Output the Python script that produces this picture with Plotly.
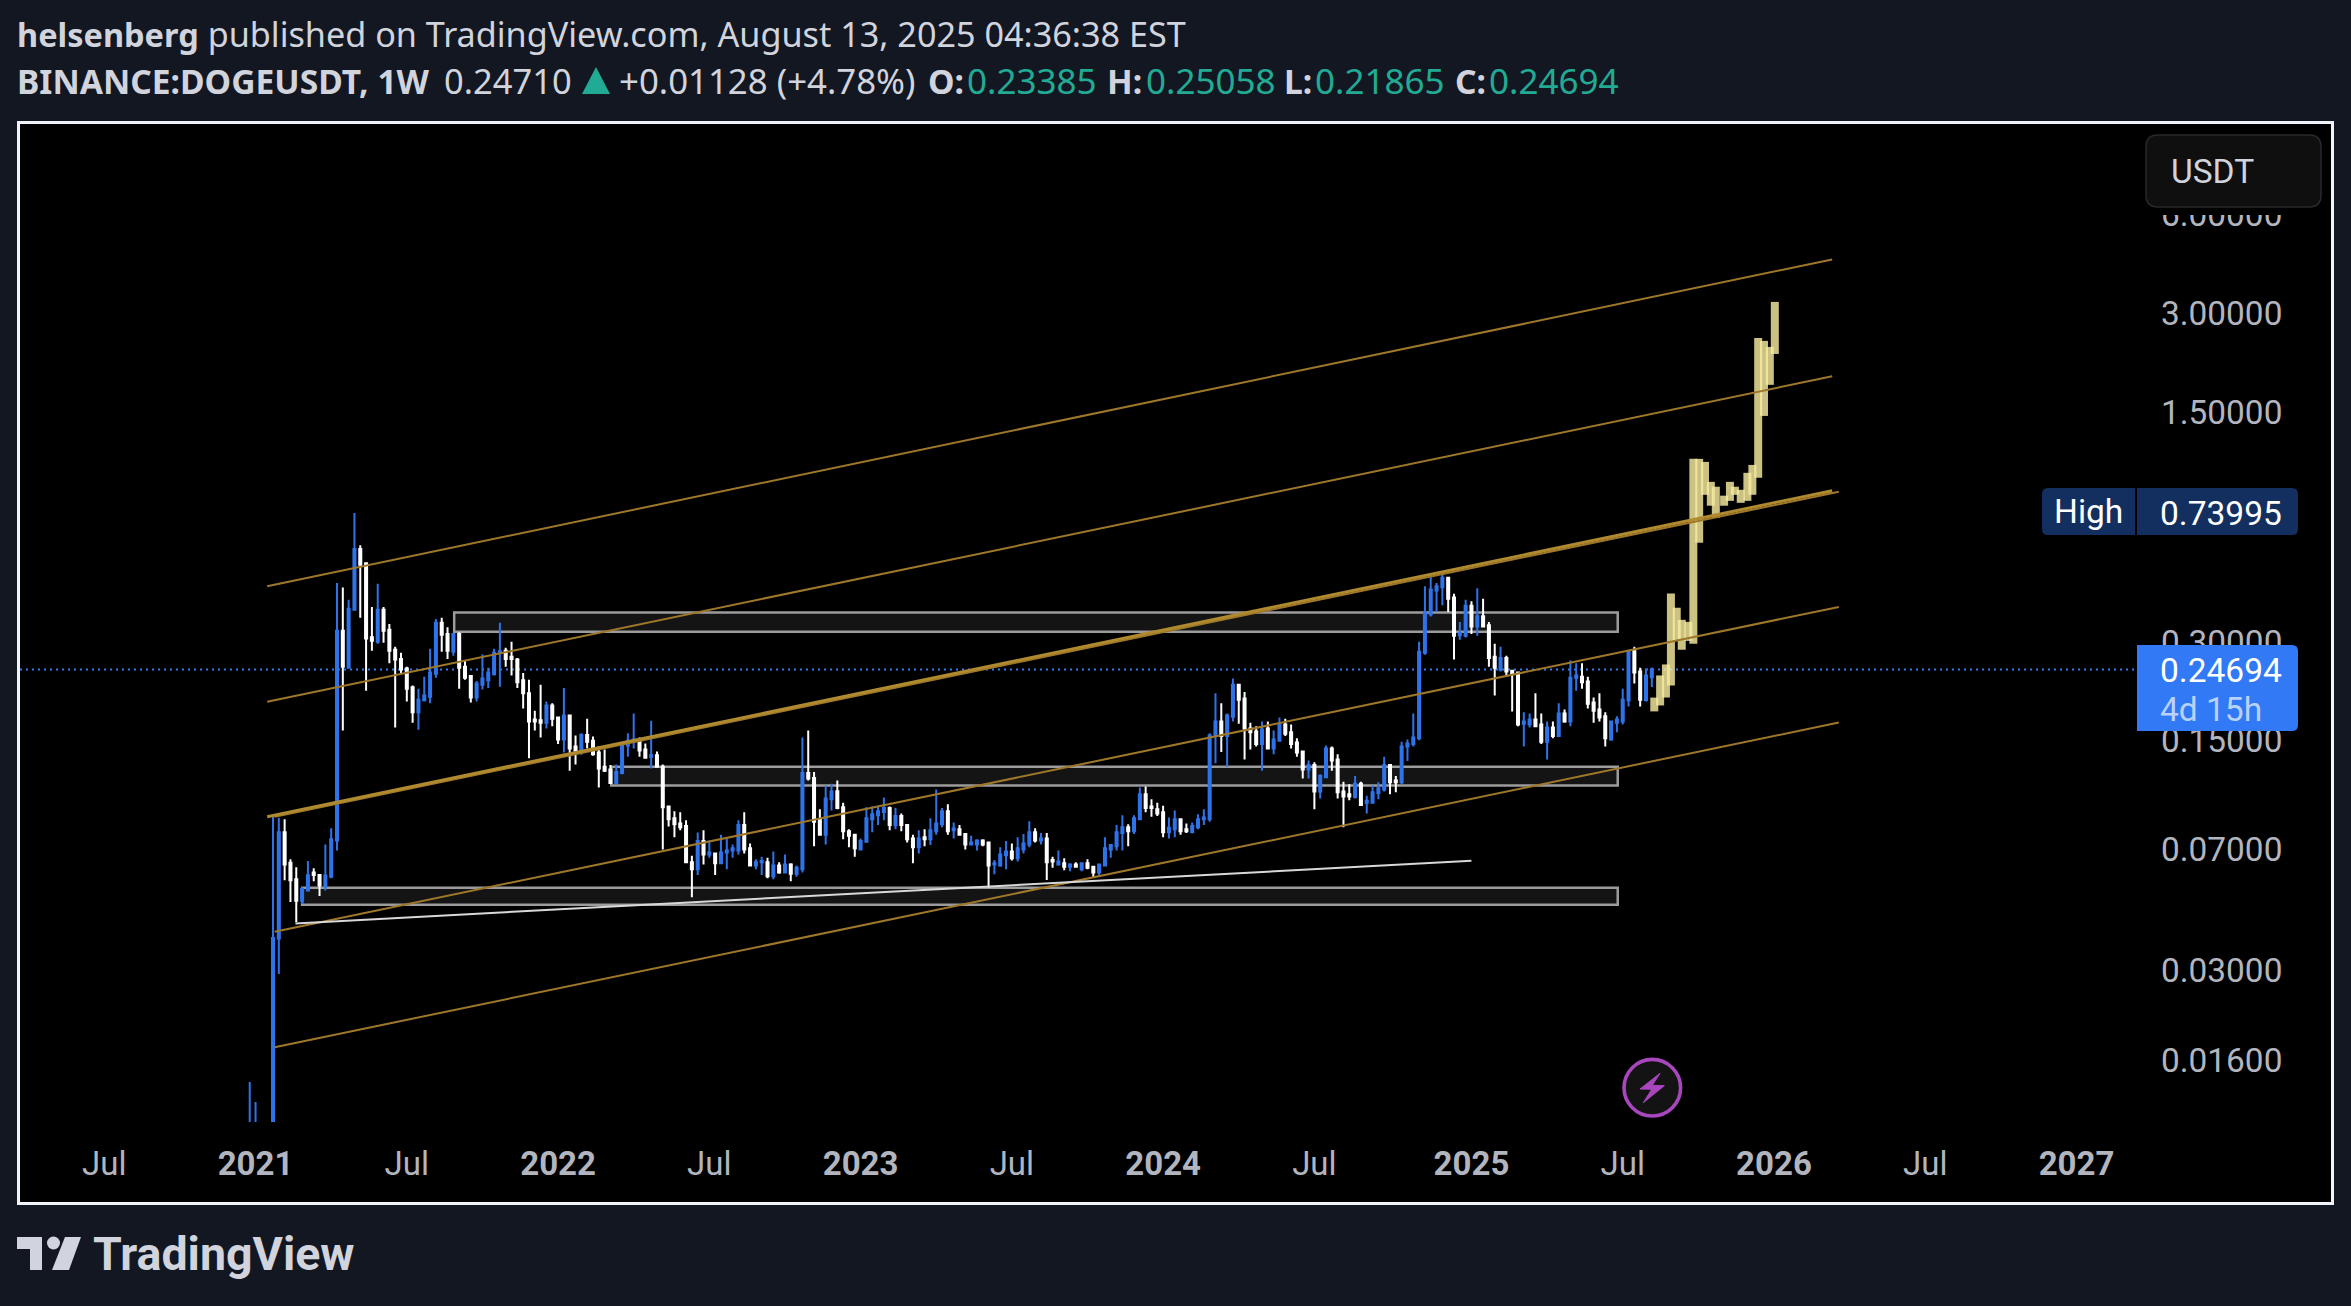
import pandas as pd
import plotly.graph_objects as go

W, H = 2351, 1306

# ---------- weekly candles (first bar 2020-12-28) ----------
opens = [.0047,.0055,.0080,.0074,
 .0075,.0375,.0790,.0637,.0568,.0488,.0525,.0595,.0585,.0540,
 .0578,.0745,.3240,.2500,.3755,.5750,.5200,.3100,.3000,.3755,
 .3265,.2840,.2660,.2490,.2180,.1830,.1990,.2040,.2400,.3430,
 .3170,.2800,.3170,.2520,.2360,.2030,.2220,.2290,.2390,.2770,
 .2820,.2700,.2650,.2290,.2090,.1740,.1730,.1700,.1920,.1765,
 .1513,
 .1790,.1440,.1380,.1560,.1500,.1380,.1250,.1226,.1115,.1195,
 .1450,.1490,.1505,.1410,.1340,.1355,.1250,.0945,.0870,.0840,
 .0825,.0640,.0609,.0742,.0675,.0680,.0635,.0685,.0695,.0695,
 .0830,.0705,.0625,.0640,.0640,.0580,.0625,.0595,.0630,.0590,
 .0609,.1195,.1155,.0864,.0775,.0994,.1052,.0940,.0795,.0775,
 .0700,
 .0738,.0864,.0890,.0910,.0935,.0830,.0885,.0830,.0755,.0710,
 .0762,.0751,.0795,.0835,.0915,.0800,.0806,.0780,.0725,.0725,
 .0745,.0735,.0630,.0625,.0672,.0690,.0658,.0700,.0725,.0790,
 .0745,.0755,.0650,.0630,.0635,.0620,.0630,.0609,.0635,.0620,
 .0595,.0625,.0700,.0715,.0785,.0818,.0795,.0864,.1030,.0945,
 .0927,
 .0908,.0790,.0806,.0864,.0806,.0790,.0818,.0864,.0864,.1550,
 .1715,.1550,.1775,.2220,.2015,.1635,.1600,.1465,.1635,.1420,
 .1500,.1680,.1590,.1480,.1390,.1226,.1265,.1050,.1160,.1420,
 .1315,.1050,.1030,.1010,.1110,.0970,.0970,.1040,.1066,.1265,
 .1135,.1120,.1440,.1465,.1525,.2780,.3640,.4300,.4400,.4700,
 .4090,
 .3140,.3130,.3860,.3340,.3590,.3370,.2700,.2470,.2680,.2450,
 .2420,.1690,.1680,.1740,.1680,.1490,.1645,.1550,.1815,.1715,
 .2330,.2350,.2270,.1960,.1866,.1780,.1513,.1700,.1715,.1990,
 .2810,.2435,.1990,.23385]

closes = [.0055,.0080,.0074,.0075,
 .0376,.0790,.0630,.0564,.0488,.0530,.0584,.0585,.0543,.0583,
 .0751,.3240,.2520,.3780,.5750,.5150,.3070,.3020,.3755,.3240,
 .2820,.2650,.2470,.2160,.1830,.2000,.2060,.2420,.3430,.3150,
 .2820,.3170,.2500,.2330,.2030,.2240,.2320,.2420,.2780,.2810,
 .2660,.2660,.2260,.2090,.1715,.1715,.1700,.1920,.1750,.1513,
 .1790,
 .1420,.1400,.1560,.1490,.1365,.1235,.1215,.1115,.1205,.1450,
 .1500,.1513,.1400,.1330,.1355,.1250,.0940,.0864,.0835,.0818,
 .0640,.0609,.0742,.0675,.0685,.0635,.0685,.0695,.0705,.0830,
 .0700,.0625,.0640,.0645,.0580,.0625,.0595,.0630,.0590,.0615,
 .1195,.1150,.0850,.0775,.1000,.1050,.0935,.0795,.0770,.0705,
 .0742,
 .0870,.0895,.0915,.0935,.0830,.0885,.0830,.0751,.0710,.0755,
 .0751,.0800,.0840,.0915,.0795,.0810,.0775,.0725,.0735,.0745,
 .0725,.0625,.0635,.0675,.0690,.0658,.0705,.0730,.0790,.0745,
 .0755,.0640,.0643,.0643,.0620,.0630,.0620,.0635,.0615,.0595,
 .0630,.0705,.0722,.0790,.0818,.0795,.0870,.1030,.0935,.0935,
 .0900,
 .0790,.0815,.0864,.0795,.0795,.0825,.0864,.0875,.1555,.1715,
 .1550,.1790,.2220,.2000,.1635,.1590,.1465,.1622,.1420,.1513,
 .1680,.1575,.1465,.1380,.1226,.1265,.1050,.1170,.1420,.1305,
 .1045,.1015,.1015,.1110,.0955,.0985,.1045,.1075,.1265,.1120,
 .1120,.1440,.1470,.1535,.2800,.3685,.4330,.4430,.4700,.4060,
 .3130,
 .3190,.3860,.3340,.3590,.3340,.2680,.2500,.2680,.2435,.2410,
 .1680,.1715,.1740,.1660,.1490,.1645,.1550,.1815,.1715,.2330,
 .2370,.2260,.1945,.1850,.1765,.1525,.1715,.1740,.2000,.2810,
 .2420,.2000,.2370,.24694]

highs = [.0137,.0119,.0100,.0088,
 .0885,.0874,.0864,.0653,.0618,.0537,.0645,.0613,.0585,.0725,
 .0812,.4530,.4390,.4030,.73995,.5900,.5200,.3830,.4510,.3830,
 .3400,.2900,.2780,.2520,.2210,.2160,.2350,.2860,.3520,.3550,
 .3320,.3170,.3210,.2630,.2360,.2280,.2750,.2500,.2860,.3430,
 .2880,.3000,.2680,.2410,.2300,.1850,.2220,.1975,.1950,.1765,
 .2170,
 .1800,.1555,.1580,.1750,.1545,.1440,.1410,.1265,.1270,.1470,
 .1580,.1815,.1535,.1470,.1725,.1390,.1270,.0945,.0915,.0908,
 .0858,.0670,.0788,.0800,.0745,.0680,.0775,.0755,.0725,.0858,
 .0908,.0730,.0653,.0665,.0660,.0690,.0640,.0675,.0635,.0625,
 .1535,.1610,.1205,.0927,.1095,.1110,.1135,.0970,.0806,.0780,
 .0755,
 .0940,.0945,.0950,.1008,.0945,.0935,.0900,.0835,.0775,.0800,
 .0806,.0870,.1066,.0935,.0960,.0845,.0830,.0785,.0770,.0751,
 .0751,.0735,.0650,.0710,.0742,.0730,.0762,.0780,.0852,.0812,
 .0785,.0785,.0665,.0695,.0658,.0635,.0640,.0640,.0653,.0620,
 .0630,.0762,.0725,.0830,.0890,.0835,.0890,.1080,.1088,.0994,
 .0970,
 .0950,.0875,.0920,.0870,.0840,.0845,.0895,.0927,.1580,.2090,
 .1950,.1815,.2320,.2220,.2110,.1700,.1660,.1715,.1715,.1610,
 .1765,.1750,.1680,.1525,.1400,.1305,.1290,.1185,.1450,.1440,
 .1365,.1125,.1105,.1170,.1125,.1020,.1095,.1120,.1340,.1265,
 .1170,.1490,.1513,.1815,.3000,.4430,.4800,.4530,.4840,.4700,
 .4200,
 .3450,.4030,.3990,.4370,.4060,.3450,.2960,.2900,.2720,.2468,
 .2420,.1830,.1815,.2090,.1815,.1715,.1715,.1950,.1866,.2630,
 .2580,.2580,.2350,.2030,.2090,.1830,.1715,.1780,.2160,.2840,
 .2900,.2500,.2490,.25058]

lows = [.0044,.0052,.0070,.0070,
 .0070,.0292,.0564,.0484,.0420,.0477,.0525,.0560,.0505,.0525,
 .0572,.0695,.1610,.2490,.3755,.3550,.2130,.2820,.2960,.2980,
 .2580,.1645,.2400,.1975,.1700,.1620,.1975,.1950,.2330,.2800,
 .2660,.2720,.2160,.2300,.1960,.1975,.2146,.2170,.2370,.2190,
 .2520,.2370,.2170,.1880,.1325,.1610,.1535,.1635,.1660,.1465,
 .1380,
 .1215,.1270,.1360,.1420,.1350,.1080,.1205,.1110,.1110,.1185,
 .1340,.1420,.1340,.1325,.1235,.1250,.0700,.0822,.0762,.0800,
 .0640,.0500,.0585,.0630,.0660,.0585,.0635,.0609,.0660,.0675,
 .0680,.0625,.0609,.0585,.0572,.0568,.0590,.0595,.0560,.0578,
 .0595,.1135,.0715,.0770,.0725,.0920,.0927,.0751,.0710,.0665,
 .0700,
 .0738,.0790,.0830,.0858,.0800,.0806,.0795,.0735,.0635,.0680,
 .0715,.0722,.0775,.0818,.0775,.0755,.0770,.0700,.0722,.0695,
 .0715,.0535,.0588,.0620,.0609,.0648,.0643,.0680,.0710,.0735,
 .0725,.0565,.0615,.0627,.0605,.0600,.0615,.0600,.0609,.0575,
 .0585,.0625,.0660,.0695,.0695,.0715,.0780,.0864,.0908,.0880,
 .0885,
 .0762,.0755,.0762,.0775,.0785,.0785,.0806,.0830,.0850,.1280,
 .1385,.1250,.1715,.1690,.1315,.1410,.1440,.1215,.1410,.1365,
 .1490,.1550,.1420,.1340,.1150,.1150,.0927,.1000,.1160,.1215,
 .1000,.0818,.0988,.1000,.0950,.0900,.0970,.0994,.1050,.1030,
 .1045,.1105,.1300,.1440,.1505,.2740,.3580,.3700,.3880,.3700,
 .2650,
 .3045,.3090,.3170,.3130,.3340,.2520,.2060,.2435,.2370,.1840,
 .1660,.1440,.1645,.1660,.1465,.1315,.1525,.1550,.1700,.1660,
 .2130,.2160,.1880,.1700,.1715,.1440,.1500,.1590,.1680,.1905,
 .2240,.1905,.1975,.21865]

weeks = pd.date_range("2020-12-28", periods=len(opens), freq="7D")

# ---------- projected bars pattern ----------
proj_dates = ["2025-08-14","2025-08-21","2025-08-28","2025-09-03","2025-09-10","2025-09-16",
              "2025-09-24","2025-09-30","2025-10-07","2025-10-14","2025-10-21","2025-10-27",
              "2025-11-06","2025-11-13","2025-11-19","2025-11-26","2025-12-04","2025-12-10",
              "2025-12-17","2025-12-24","2025-12-31","2026-01-06"]
proj_top = [.2029,.2370,.2560,.4210,.3810,.3500,.3450,1.082,1.082,1.059,.921,.890,
            .836,.921,.890,.871,.981,1.037,2.527,2.474,2.372,3.252]
proj_bot = [.1842,.1920,.2030,.2210,.3020,.2838,.3020,.2960,.6010,.841,.779,.716,
            .779,.806,.841,.795,.806,.841,.948,1.462,1.818,2.258]

# ---------- channel lines ----------
channel_thin_x = ["2021-01-18", "2026-03-16"]
channel_top = [.4428, 4.38]
channel_second = [.197, 1.93]
channel_mid_thick = [.0880, .8656]
channel_low_x = ["2021-01-27", "2026-03-24"]
channel_mid_thin = [.0880, .859]
channel_fourth = [.0393, .3832]
channel_bottom = [.01748, .1703]

# ---------- zones and trend ----------
zone_start = ["2021-08-31", "2022-03-08", "2021-03-01"]
zone_end = "2025-07-01"
zone_top = [.3685, .1250, .0535]
zone_bot = [.3218, .1095, .04752]
trend_x = ["2021-02-21", "2025-01-06"]
trend_y = [.04165, .0646]
last_price = 0.24694

# ---------- axis labels ----------
time_ticks = ["2020-07-06","2021-01-04","2021-07-05","2022-01-03","2022-07-04","2023-01-02","2023-07-03",
              "2024-01-01","2024-07-01","2025-01-06","2025-07-07","2026-01-05","2026-07-06","2027-01-04"]
time_labels = ["Jul","<b>2021</b>","Jul","<b>2022</b>","Jul","<b>2023</b>","Jul",
               "<b>2024</b>","Jul","<b>2025</b>","Jul","<b>2026</b>","Jul","<b>2027</b>"]
price_ticks = [6, 3, 1.5, 0.3, 0.15, 0.07, 0.03, 0.016]
price_labels = ["6.00000","3.00000","1.50000","0.30000","0.15000","0.07000","0.03000","0.01600"]

BG = "#131722"
BLUE = "#2F73EA"
GOLD = "#9E772A"
GOLD_MAIN = "#B08A2E"
TEXT = "#D1D4DC"
AXIS = "#B2B5BE"
TEAL = "#22AB94"


def fx(x):
    return x / W


def fy(y):
    return 1 - y / H


def rrect(x0, y0, x1, y1, r, corners=(1, 1, 1, 1)):
    """Rounded rectangle as a paper-referenced SVG path (corners tl,tr,br,bl)."""
    tl, tr, br, bl = [r * c for c in corners]
    pts = [
        f"M{fx(x0+tl)},{fy(y0)}", f"L{fx(x1-tr)},{fy(y0)}",
        f"Q{fx(x1)},{fy(y0)} {fx(x1)},{fy(y0+tr)}", f"L{fx(x1)},{fy(y1-br)}",
        f"Q{fx(x1)},{fy(y1)} {fx(x1-br)},{fy(y1)}", f"L{fx(x0+bl)},{fy(y1)}",
        f"Q{fx(x0)},{fy(y1)} {fx(x0)},{fy(y1-bl)}", f"L{fx(x0)},{fy(y0+tl)}",
        f"Q{fx(x0)},{fy(y0)} {fx(x0+tl)},{fy(y0)}", "Z",
    ]
    return " ".join(pts)


def poly(points):
    return "M" + " L".join(f"{fx(a)},{fy(b)}" for a, b in points) + " Z"


fig = go.Figure()

# candles
fig.add_trace(go.Candlestick(x=weeks, open=opens, high=highs, low=lows, close=closes,
                             increasing=dict(line=dict(color=BLUE, width=2), fillcolor=BLUE),
                             decreasing=dict(line=dict(color="#FFFFFF", width=2), fillcolor="#FFFFFF"),
                             showlegend=False))

# projection bars, two alternating traces so neighbours blend where they overlap
for k in (0, 1):
    xs, ys = [], []
    for d, t, b in list(zip(proj_dates, proj_top, proj_bot))[k::2]:
        xs += [d, d, None]
        ys += [b, t, None]
    fig.add_trace(go.Scatter(x=xs, y=ys, mode="lines", opacity=0.82,
                             line=dict(color="#F7ECA0", width=8), showlegend=False))

# channel lines
for xs, ys, col, wd in [(channel_thin_x, channel_top, GOLD, 2),
                        (channel_thin_x, channel_second, GOLD, 2),
                        (channel_low_x, channel_mid_thin, GOLD, 2),
                        (channel_thin_x, channel_mid_thick, GOLD_MAIN, 3),
                        (channel_low_x, channel_fourth, GOLD, 2),
                        (channel_low_x, channel_bottom, GOLD, 2)]:
    fig.add_trace(go.Scatter(x=xs, y=ys, mode="lines", line=dict(color=col, width=wd), showlegend=False))

# trend line
fig.add_trace(go.Scatter(x=trend_x, y=trend_y, mode="lines", line=dict(color="#D8D8D8", width=2), showlegend=False))

shapes = [
    # chart frame
    dict(type="rect", xref="paper", yref="paper", x0=fx(18.5), x1=fx(2332.5), y0=fy(1203.5), y1=fy(122.5),
         fillcolor="#000000", line=dict(color="#F0F3FA", width=3), layer="below"),
    # last price line
    dict(type="line", xref="paper", yref="y", x0=fx(20), x1=fx(2137), y0=last_price, y1=last_price,
         line=dict(color="#3179F5", width=2, dash="2px,4px"), layer="below"),
]
# zones, under the candles
for start, top, bot in zip(zone_start, zone_top, zone_bot):
    shapes.append(dict(type="rect", xref="x", yref="y", x0=start, x1=zone_end, y0=bot, y1=top,
                       fillcolor="#141414", line=dict(color="#9C9C9C", width=2.5), layer="below"))
shapes += [
    # mask hiding the top half of the upper tick label, then the USDT box
    dict(type="rect", xref="paper", yref="paper", x0=fx(2140), x1=fx(2330), y0=fy(215), y1=fy(125),
         fillcolor="#000000", line=dict(width=0)),
    dict(type="path", xref="paper", yref="paper", path=rrect(2146, 135, 2321, 207, 12),
         fillcolor="#0F0F0F", line=dict(color="#2A2A2A", width=1.5)),
    # price labels
    dict(type="path", xref="paper", yref="paper", path=rrect(2042, 488, 2135, 535, 6, (1, 0, 0, 1)),
         fillcolor="#132F60", line=dict(width=0)),
    dict(type="path", xref="paper", yref="paper", path=rrect(2137, 488, 2298, 535, 6, (0, 1, 1, 0)),
         fillcolor="#132F60", line=dict(width=0)),
    dict(type="path", xref="paper", yref="paper", path=rrect(2137, 645, 2298, 731, 6, (0, 1, 1, 0)),
         fillcolor="#3179F5", line=dict(width=0)),
    # lightning badge
    dict(type="circle", xref="paper", yref="paper", x0=fx(1624), x1=fx(1680.6), y0=fy(1116), y1=fy(1059.4),
         fillcolor="#131313", line=dict(color="#A846BE", width=3.6)),
    dict(type="path", xref="paper", yref="paper",
         path=poly([(1660, 1073.3), (1640, 1089), (1651.7, 1089.3), (1643.3, 1102.7), (1664.3, 1085.7), (1652.3, 1085.3)]),
         fillcolor="#A846BE", line=dict(color="#A846BE", width=1)),
    # header triangle
    dict(type="path", xref="paper", yref="paper", path=poly([(596, 67), (610, 94), (582, 94)]),
         fillcolor=TEAL, line=dict(width=0)),
    # logo mark
    dict(type="path", xref="paper", yref="paper",
         path=poly([(17, 1237), (42, 1237), (42, 1270), (30, 1270), (30, 1249), (17, 1249)]),
         fillcolor=TEXT, line=dict(width=0)),
    dict(type="circle", xref="paper", yref="paper", x0=fx(47), x1=fx(60), y0=fy(1249.5), y1=fy(1236.5),
         fillcolor=TEXT, line=dict(width=0)),
    dict(type="path", xref="paper", yref="paper",
         path=poly([(65, 1237), (81, 1237), (69, 1270), (52, 1270)]),
         fillcolor=TEXT, line=dict(width=0)),
]


def label(x, y, text, size=33, color=TEXT, font="Roboto"):
    return dict(xref="paper", yref="paper", x=fx(x - 3), y=fy(y), xanchor="left", yanchor="middle",
                text=text, showarrow=False, font=dict(family=font, size=size, color=color))


HB = 33.6
HD = 35
HF = "Noto Sans"
annotations = [
    label(18, 33.5, '<b style="font-size:32.5px">helsenberg</b> published on TradingView.com, August 13, 2025 04:36:38 EST', 34.2, TEXT, HF),
    label(18, 80.5, "<b>BINANCE:DOGEUSDT, 1W</b>", HB, TEXT, HF),
    label(445, 80.5, "0.24710", 34.5, TEXT, HF),
    label(620, 80.5, "+0.01128 (+4.78%)", 34.8, TEXT, HF),
    label(929, 80.5, "<b>O:</b>", HB, TEXT, HF),
    label(968, 80.5, "0.23385", HD, TEAL, HF),
    label(1108, 80.5, "<b>H:</b>", HB, TEXT, HF),
    label(1147, 80.5, "0.25058", HD, TEAL, HF),
    label(1285, 80.5, "<b>L:</b>", HB, TEXT, HF),
    label(1316, 80.5, "0.21865", HD, TEAL, HF),
    label(1456, 80.5, "<b>C:</b>", HB, TEXT, HF),
    label(1490, 80.5, "0.24694", HD, TEAL, HF),
    label(2172, 171, "USDT", 33.5, TEXT),
    label(2055, 512, "High", 33.5, "#FFFFFF"),
    label(2161, 513, "0.73995", 33.5, "#FFFFFF"),
    label(2161, 670, "0.24694", 33.5, "#FFFFFF"),
    label(2161, 709, "4d 15h", 33.5, "#BAD2FB"),
    label(94, 1254, "<b>TradingView</b>", 46.5, TEXT, "Roboto"),
]

fig.update_layout(
    width=W, height=H, margin=dict(l=0, r=0, t=0, b=0), paper_bgcolor=BG, plot_bgcolor="rgba(0,0,0,0)",
    showlegend=False, shapes=shapes, annotations=annotations, boxgap=0.3, boxgroupgap=0.5,
    xaxis=dict(domain=[fx(20), fx(2137)], type="date", range=["2020-03-26 14:00", "2027-03-17 19:00"],
               tickmode="array", tickvals=time_ticks, ticktext=time_labels, showgrid=False, zeroline=False,
               showline=False, ticks="", ticklabelstandoff=19, rangeslider=dict(visible=False),
               tickfont=dict(family="Roboto", size=33, color=AXIS)),
    yaxis=dict(domain=[fy(1122), fy(125)], type="log", range=[-1.985, 1.0508], side="right", anchor="x",
               tickmode="array", tickvals=price_ticks, ticktext=price_labels, showgrid=False, zeroline=False,
               showline=False, ticks="", ticklabelstandoff=23,
               tickfont=dict(family="Roboto", size=33.4, color=AXIS)),
)

fig.write_html("out.html", config={"displayModeBar": False},
               post_script="document.body.style.margin='0';document.body.style.overflow='hidden';")
